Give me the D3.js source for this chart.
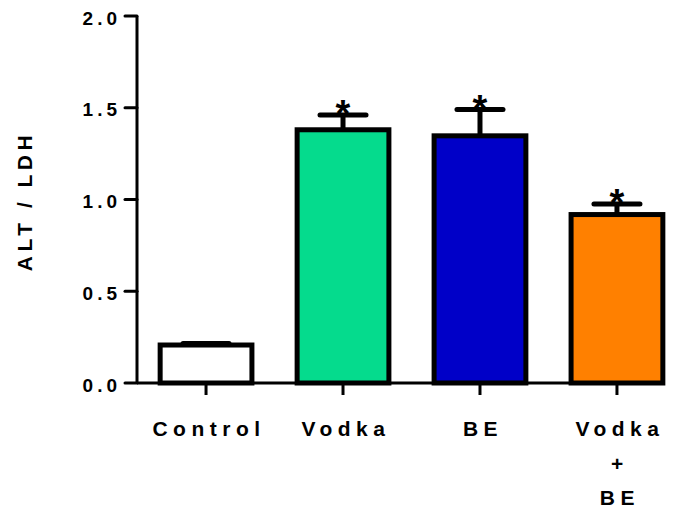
<!DOCTYPE html>
<html>
<head>
<meta charset="utf-8">
<script src="https://cdn.jsdelivr.net/npm/d3@7"></script>
<style>
  html, body { margin: 0; padding: 0; background: #fff; }
  svg { display: block; }
  text { font-family: Arial, "Liberation Sans", Helvetica, sans-serif; font-weight: bold; fill: #000; }
</style>
</head>
<body>
<svg id="chart" width="677" height="508"></svg>
<script>
// ALT / LDH ratio per treatment group (mean with upper error bar)
const categories = ["Control", "Vodka", "BE", "Vodka\n+\nBE"];
const means      = [0.207, 1.38, 1.347, 0.918];
const errTops    = [0.215, 1.46, 1.49, 0.975];
const colors     = ["#ffffff", "#05db8d", "#0000c8", "#ff8000"];
const starred    = [false, true, true, true];
const yTicks     = [0, 0.5, 1.0, 1.5, 2.0];

const svg = d3.select("#chart");

const x = d3.scaleBand()
  .domain(categories)
  .range([137, 686])
  .paddingInner(0.33)
  .paddingOuter(0.169);

const y = d3.scaleLinear().domain([0, 2]).range([383, 16]);

// Y axis
const yAxis = svg.append("g").attr("transform", "translate(137,0)");
yAxis.append("line")
  .attr("x1", 0).attr("x2", 0)
  .attr("y1", y(2)).attr("y2", y(0))
  .attr("stroke", "#000").attr("stroke-width", 3);
yTicks.forEach(t => {
  yAxis.append("line")
    .attr("x1", -12).attr("x2", 0)
    .attr("y1", y(t)).attr("y2", y(t))
    .attr("stroke", "#000").attr("stroke-width", 3)
    .attr("stroke-linecap", "round");
  yAxis.append("text")
    .attr("x", -20 + 4)
    .attr("y", y(t) + 8.5)
    .attr("text-anchor", "end")
    .style("font-size", "19px")
    .style("letter-spacing", "4px")
    .text(d3.format(".1f")(t));
});

// Y axis title
svg.append("text")
  .attr("transform", `translate(32,201) rotate(-90)`)
  .attr("text-anchor", "middle")
  .style("font-size", "21px")
  .style("letter-spacing", "4.5px")
  .text("ALT / LDH");

// X axis
svg.append("line")
  .attr("x1", 137).attr("x2", 665)
  .attr("y1", y(0)).attr("y2", y(0))
  .attr("stroke", "#000").attr("stroke-width", 3);

categories.forEach(c => {
  const cx = x(c) + x.bandwidth() / 2;
  svg.append("line")
    .attr("x1", cx).attr("x2", cx)
    .attr("y1", y(0)).attr("y2", y(0) + 12)
    .attr("stroke", "#000").attr("stroke-width", 3);
  const lines = c.split("\n");
  const t = svg.append("text")
    .attr("text-anchor", "middle")
    .style("font-size", "21px")
    .style("letter-spacing", "5.5px");
  lines.forEach((ln, i) => {
    t.append("tspan")
      .attr("x", cx + 3)
      .attr("y", 436 + i * 34.5)
      .text(ln);
  });
});

// Error bars (drawn behind the bars)
categories.forEach((c, i) => {
  const cx = x(c) + x.bandwidth() / 2;
  svg.append("line")
    .attr("x1", cx).attr("x2", cx)
    .attr("y1", y(means[i])).attr("y2", y(errTops[i]))
    .attr("stroke", "#000").attr("stroke-width", 5);
  svg.append("line")
    .attr("x1", cx - 23).attr("x2", cx + 23)
    .attr("y1", y(errTops[i])).attr("y2", y(errTops[i]))
    .attr("stroke", "#000").attr("stroke-width", 5)
    .attr("stroke-linecap", "round");
});

// Bars
svg.append("g").selectAll("rect")
  .data(categories)
  .join("rect")
  .attr("x", d => x(d))
  .attr("y", (d, i) => y(means[i]))
  .attr("width", x.bandwidth())
  .attr("height", (d, i) => y(0) - y(means[i]))
  .attr("fill", (d, i) => colors[i])
  .attr("stroke", "#000")
  .attr("stroke-width", 5);

// Significance markers
categories.forEach((c, i) => {
  if (!starred[i]) return;
  const cx = x(c) + x.bandwidth() / 2;
  svg.append("text")
    .attr("x", cx)
    .attr("y", y(errTops[i]) + 12)
    .attr("text-anchor", "middle")
    .style("font-size", "38px")
    .text("*");
});
</script>
</body>
</html>
